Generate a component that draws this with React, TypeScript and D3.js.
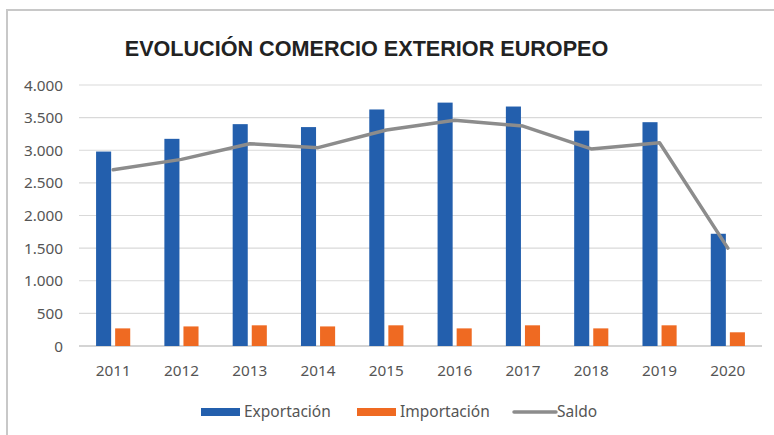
import React from "react";
import * as d3 from "d3";

const years = ["2011", "2012", "2013", "2014", "2015", "2016", "2017", "2018", "2019", "2020"];
const exportacion = [2980, 3175, 3400, 3355, 3625, 3730, 3670, 3300, 3430, 1720];
const importacion = [270, 300, 317, 300, 317, 270, 317, 270, 317, 210];
const saldo = [2700, 2860, 3100, 3040, 3310, 3460, 3370, 3020, 3115, 1500];
const yTicks = [0, 500, 1000, 1500, 2000, 2500, 3000, 3500, 4000];
const seriesNames = ["Exportación", "Importación", "Saldo"];

const W = 774;
const H = 435;
const BLUE = "#235FAD";
const ORANGE = "#EF6A22";
const GRAY = "#8C8C8C";
const FONT = "'Noto Sans', sans-serif";

const fmt = (v: number) => {
  const s = String(v);
  return s.length > 3 ? s.slice(0, s.length - 3) + "." + s.slice(s.length - 3) : s;
};

export default function App() {
  const x = d3.scaleBand<string>().domain(years).range([79, 762]).paddingInner(0.5).paddingOuter(0.25);
  const inner = d3.scaleBand<string>().domain(["e", "i"]).range([0, x.bandwidth()]).paddingInner(0.21);
  const y = d3.scaleLinear().domain([0, 4000]).range([346, 85]);
  const cx = (yr: string) => (x(yr) as number) + x.bandwidth() / 2;

  const line = d3
    .line<number>()
    .x((_, i) => cx(years[i]))
    .y((d) => y(d));

  return (
    <svg width={W} height={H} style={{ position: "absolute", left: 0, top: 0, background: "#fff" }}>
      <rect x={0} y={0} width={W} height={H} fill="#fff" />
      <line x1={7} x2={W} y1={10} y2={10} stroke="#c8c8c8" strokeWidth={2} />
      <line x1={7} x2={7} y1={9} y2={H} stroke="#c8c8c8" strokeWidth={2} />
      <text
        x={366.5}
        y={56}
        textAnchor="middle"
        fontFamily="'Liberation Sans', Arial, sans-serif"
        fontWeight="bold"
        fontSize={21.6}
        fill="#222"
      >
        EVOLUCIÓN COMERCIO EXTERIOR EUROPEO
      </text>
      {yTicks.map((t) => (
        <g key={t}>
          <line x1={79} x2={762} y1={y(t)} y2={y(t)} stroke={t === 0 ? "#c6c6c6" : "#d9d9d9"} strokeWidth={t === 0 ? 1.5 : 1.2} />
          <text x={63} y={y(t) + 5.5} textAnchor="end" fontFamily={FONT} fontSize={15.3} fill="#555">
            {fmt(t)}
          </text>
        </g>
      ))}
      {years.map((yr, i) => (
        <g key={yr}>
          <rect
            x={(x(yr) as number) + (inner("e") as number)}
            y={y(exportacion[i])}
            width={inner.bandwidth()}
            height={y(0) - y(exportacion[i])}
            fill={BLUE}
          />
          <rect
            x={(x(yr) as number) + (inner("i") as number)}
            y={y(importacion[i])}
            width={inner.bandwidth()}
            height={y(0) - y(importacion[i])}
            fill={ORANGE}
          />
          <text x={cx(yr)} y={375.5} textAnchor="middle" fontFamily={FONT} fontSize={15.3} fill="#555">
            {yr}
          </text>
        </g>
      ))}
      <path d={line(saldo) || ""} fill="none" stroke={GRAY} strokeWidth={3.5} strokeLinejoin="round" strokeLinecap="round" />
      <g fontFamily={FONT} fontSize={15.5} fill="#555">
        <rect x={201} y={408} width={39} height={8} fill={BLUE} />
        <text x={244} y={417}>{seriesNames[0]}</text>
        <rect x={357} y={408} width={39} height={8} fill={ORANGE} />
        <text x={400} y={417}>{seriesNames[1]}</text>
        <line x1={514} x2={556} y1={412} y2={412} stroke={GRAY} strokeWidth={3.5} strokeLinecap="round" />
        <text x={557} y={417}>{seriesNames[2]}</text>
      </g>
    </svg>
  );
}
